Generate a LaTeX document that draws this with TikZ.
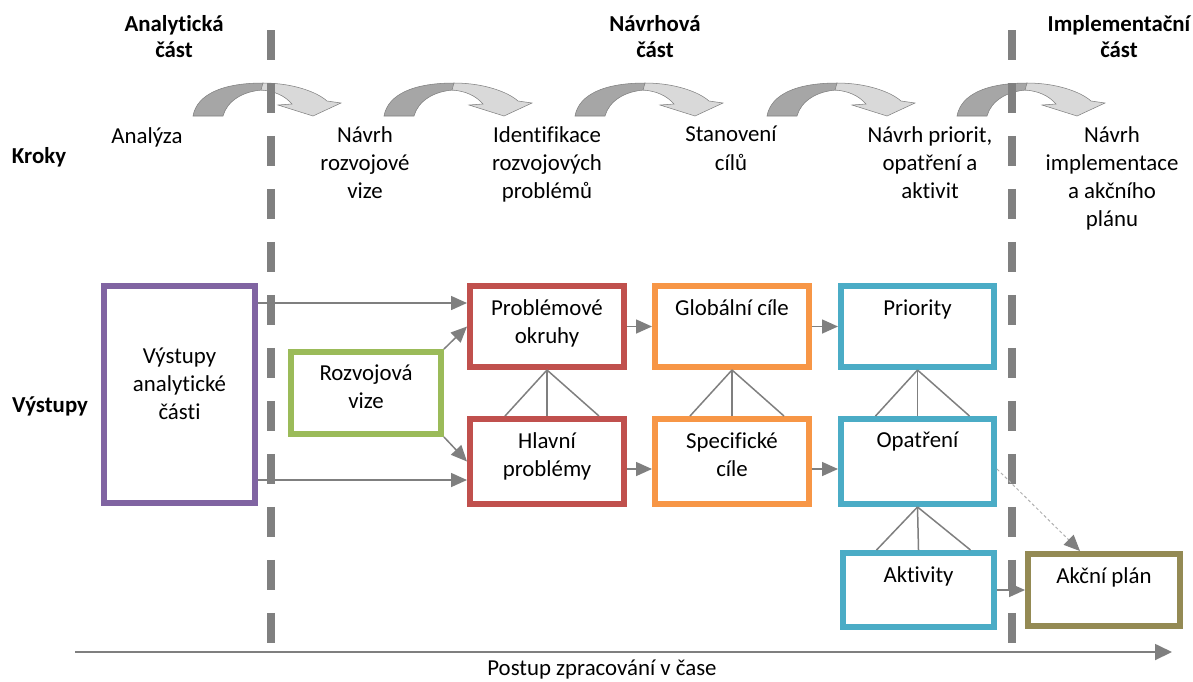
\documentclass[tikz,border=0pt]{standalone}
\usepackage{fontspec}
\setmainfont{Carlito}[Ligatures={NoCommon}]
\usetikzlibrary{arrows.meta}
\definecolor{cpurple}{HTML}{8064A2}
\definecolor{cgreen}{HTML}{9BBB59}
\definecolor{cred}{HTML}{C0504D}
\definecolor{corange}{HTML}{F79646}
\definecolor{cblue}{HTML}{4BACC6}
\definecolor{colive}{HTML}{948A54}
\definecolor{cline}{HTML}{7F7F7F}
\definecolor{cdash}{HTML}{808080}
\definecolor{cdark}{HTML}{A6A6A6}
\definecolor{clight}{HTML}{D9D9D9}
\definecolor{cthin}{HTML}{B0B0B0}
\begin{document}
\begin{tikzpicture}[x=0.02cm,y=-0.02cm,
  txt/.style={font=\fontsize{13}{16}\selectfont, align=center, inner sep=0pt},
  hdr/.style={font=\fontsize{13}{15}\selectfont\bfseries, align=center, inner sep=0pt},
  box/.style={draw, line width=0.12cm, inner sep=0pt},
  conn/.style={draw=cline, line width=0.03cm, -{Triangle[length=0.32cm,width=0.28cm]}},
  thinconn/.style={draw=cthin, line width=0.02cm, dash pattern=on 0.06cm off 0.05cm, -{Triangle[length=0.32cm,width=0.28cm,color=cline]}},
  tree/.style={draw=cline, line width=0.03cm},
  axisline/.style={draw=cline, line width=0.035cm, -{Triangle[length=0.34cm,width=0.32cm]}},
  sepline/.style={draw=cdash, line width=0.16cm, dash pattern=on 0.6cm off 0.46cm},
  darkpart/.style={fill=cdark, draw=cline, line width=0.3pt},
  lightpart/.style={fill=clight, draw=cline, line width=0.3pt},
]
\useasboundingbox (0,0) rectangle (1193,681);

% curved step arrows
\foreach \xo in {193,384,575,767,957}{
  \begin{scope}[shift={(\xo,116)}]
    \path[darkpart] (0,0) .. controls (4,-22) and (30,-33) .. (70,-33) -- (70,-26) .. controls (50,-25) and (34,-15) .. (30,0) -- cycle;
    \path[lightpart] (70,-33) .. controls (100,-33) and (124,-24) .. (134,-15) -- (148,-13) -- (120,0) -- (85,-11) -- (99,-12) .. controls (92,-20) and (82,-25) .. (68,-26) -- cycle;
  \end{scope}
}

% separators
\coordinate (sa1) at (271,30);
\coordinate (sa2) at (271,643);
\coordinate (sb1) at (1012,30);
\coordinate (sb2) at (1012,643);
\draw[sepline] (sa1) -- (sa2);
\draw[sepline] (sb1) -- (sb2);

% headers
\node[hdr, anchor=north] (h1) at (174,15) {Analytická\\část};
\node[hdr, anchor=north] (h2) at (655,15) {Návrhová\\část};
\node[hdr, anchor=north] (h3) at (1119,15) {Implementační\\část};
\node[hdr, anchor=base] (kroky) at (39,163) {Kroky};
\node[hdr, anchor=base] (vystupy) at (50,412) {Výstupy};

% steps
\node[txt, anchor=base] (s1) at (147,143) {Analýza};
\node[txt, anchor=north] (s2) at (365,126) {Návrh\\rozvojové\\vize};
\node[txt, anchor=north] (s3) at (547,126) {Identifikace\\rozvojových\\problémů};
\node[txt, anchor=north] (s4) at (731,126) {Stanovení\\cílů};
\node[txt, anchor=north] (s5) at (930,126) {Návrh priorit,\\opatření a\\aktivit};
\node[txt, anchor=north] (s6) at (1112,126) {Návrh\\implementace\\a akčního\\plánu};

% boxes
\node[box, draw=cpurple, minimum width=3.02cm, minimum height=4.34cm] (vys) at (179.5,394.5) {};
\node[box, draw=cgreen, minimum width=3.00cm, minimum height=1.64cm] (roz) at (366,393) {};
\node[box, draw=cred, minimum width=3.08cm, minimum height=1.62cm] (pro) at (547,326.5) {};
\node[box, draw=cred, minimum width=3.08cm, minimum height=1.70cm] (hla) at (547,461.5) {};
\node[box, draw=corange, minimum width=3.08cm, minimum height=1.62cm] (glo) at (732,326.5) {};
\node[box, draw=corange, minimum width=3.08cm, minimum height=1.70cm] (spe) at (732,461.5) {};
\node[box, draw=cblue, minimum width=3.06cm, minimum height=1.62cm] (pri) at (917.5,326.5) {};
\node[box, draw=cblue, minimum width=3.06cm, minimum height=1.70cm] (opa) at (917.5,461.5) {};
\node[box, draw=cblue, minimum width=3.02cm, minimum height=1.48cm] (akt) at (918.5,590) {};
\node[box, draw=colive, minimum width=3.04cm, minimum height=1.44cm] (akc) at (1104,590) {};

% box texts
\node[txt] (vys-t) at ([yshift=0.21cm]vys.center) {Výstupy\\analytické\\části};
\node[txt] (roz-t) at ([yshift=0.12cm]roz.center) {Rozvojová\\vize};
\node[txt, anchor=north] (pro-t) at ([yshift=-0.32cm]pro.north) {Problémové\\okruhy};
\node[txt, anchor=north] (hla-t) at ([yshift=-0.32cm]hla.north) {Hlavní\\problémy};
\node[txt, anchor=north] (glo-t) at ([yshift=-0.32cm]glo.north) {Globální cíle};
\node[txt, anchor=north] (spe-t) at ([yshift=-0.32cm]spe.north) {Specifické\\cíle};
\node[txt, anchor=north] (pri-t) at ([yshift=-0.32cm]pri.north) {Priority};
\node[txt, anchor=north] (opa-t) at ([yshift=-0.32cm]opa.north) {Opatření};
\node[txt, anchor=north] (akt-t) at ([yshift=-0.32cm]akt.north) {Aktivity};
\node[txt, anchor=north] (akc-t) at ([yshift=-0.32cm]akc.north) {Akční plán};

% connectors
\coordinate (ya) at (0,303);
\coordinate (yb) at (0,480);
\coordinate (yc) at (0,469);
\draw[conn] (vys.east |- ya) -- (pro.west |- ya);
\draw[conn] (vys.east |- yb) -- (hla.west |- yb);
\draw[conn] (roz.north east) -- (pro.west);
\draw[conn] (roz.south east) -- (hla.west);
\draw[conn] (pro.east) -- (glo.west);
\draw[conn] (glo.east) -- (pri.west);
\draw[conn] (hla.east |- yc) -- (spe.west |- yc);
\draw[conn] (spe.east |- yc) -- (opa.west |- yc);
\draw[conn] (akt.east) -- (akc.west);
\draw[thinconn] (opa.east |- yc) -- ([xshift=-0.48cm]akc.north);

% hierarchy lines
\foreach \p/\c in {pro/hla, glo/spe, pri/opa, opa/akt}{
  \draw[tree] (\p.south) -- ([xshift=-0.84cm]\c.north);
  \draw[tree] (\p.south) -- (\c.north);
  \draw[tree] (\p.south) -- ([xshift=1.04cm]\c.north);
}

% time axis
\coordinate (ax0) at (75,652);
\coordinate (ax1) at (1172,652);
\draw[axisline] (ax0) -- (ax1);
\node[txt, anchor=base] (postup) at (602,675) {Postup zpracování v čase};
\end{tikzpicture}
\end{document}
